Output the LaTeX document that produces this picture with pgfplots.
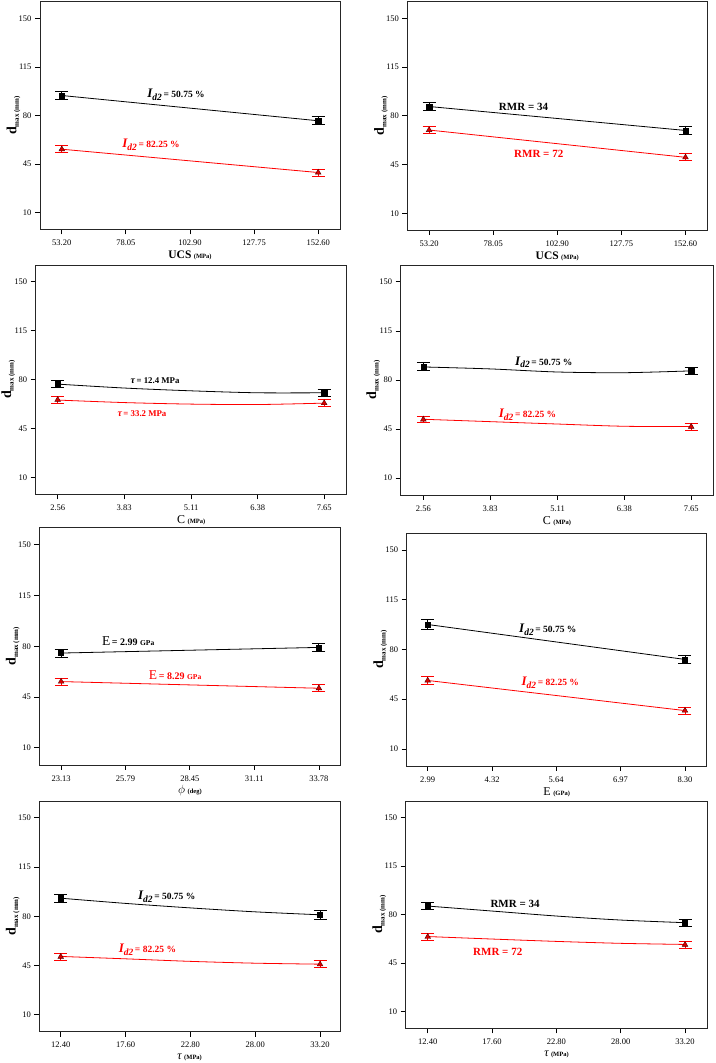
\documentclass[border=0pt]{standalone}
\usepackage{fontspec}
\setmainfont{Liberation Serif}
\usepackage{pgfplots}
\pgfplotsset{compat=1.18}
\definecolor{rd}{RGB}{255,0,0}
\newcommand{\Id}[1]{{\fontsize{13}{13}\selectfont\bfseries\itshape I\raisebox{-2.8pt}{\fontsize{9.5}{9.5}\selectfont d2}}\,{\fontsize{9.5}{10}\selectfont\bfseries = #1 \%}}
\newcommand{\dlab}{{\fontsize{14}{14}\selectfont\bfseries d}\raisebox{-2.5pt}{\fontsize{7}{7}\selectfont\bfseries max (mm)}}
\newcommand{\unitlab}[1]{{\fontsize{6.5}{7}\selectfont\bfseries (#1)}}
\pgfplotsset{
  panel/.style={scale only axis, anchor=south west, clip=false,
    ymin=-2, ymax=162, ytick={10,45,80,115,150}, yticklabels={10,45,80,115,150},
    xtick pos=bottom, ytick pos=left, tick align=outside, major tick length=5pt,
    tick style={line width=0.8pt, black},
    axis line style={line width=0.9pt, black!85},
    tick label style={font=\fontsize{8.5}{10}\selectfont},
    xticklabel style={yshift=-2pt},
    ylabel={\dlab},
    ylabel style={at={(axis description cs:-0.088,0.5)}, anchor=center},
    xlabel style={at={(axis description cs:0.5,0)}, anchor=center, yshift=-26pt},
  },
  bl/.style={black, line width=0.8pt, no marks},
  rl/.style={rd, line width=0.8pt, no marks},
  bm/.style={black, only marks, mark=square*, mark size=2.6pt,
    error bars/.cd, y dir=both, y explicit, error bar style={line width=0.9pt},
    error mark options={rotate=90, mark size=6.5pt, line width=0.9pt}},
  rm/.style={rd, only marks, mark=triangle*, mark size=3.3pt, mark options={fill=rd!85!black, draw=black!70!red},
    error bars/.cd, y dir=both, y explicit, error bar style={line width=0.9pt},
    error mark options={rotate=90, mark size=6.5pt, line width=0.9pt, draw=rd}},
}
\newcommand{\taulab}[1]{{\fontsize{10}{10}\selectfont\bfseries\itshape τ}{\fontsize{8.8}{9}\selectfont\bfseries\,= #1 MPa}}
\newcommand{\Elab}[1]{{\fontsize{13.5}{13}\selectfont E}{\fontsize{10}{10}\selectfont\bfseries\,= #1 }{\fontsize{7.5}{8}\selectfont\bfseries GPa}}
\begin{document}
\begin{tikzpicture}
\useasboundingbox (0pt,0pt) rectangle (715pt,1063pt);
% P1
\begin{axis}[panel, at={(40pt,833.7pt)}, width=300pt, height=227.6pt,
  xmin=44.75, xmax=161.05, xtick={53.2,78.05,102.9,127.75,152.6},
  xticklabels={53.20,78.05,102.90,127.75,152.60},
  xlabel={{\fontsize{11.5}{12}\selectfont\bfseries UCS} \unitlab{MPa}}]
\addplot[bl] coordinates {(53.2,94.4) (152.6,76.2)};
\addplot[rl] coordinates {(53.2,55.7) (152.6,38.9)};
\addplot[bm] coordinates {(53.2,94.4) +- (0,3) (152.6,76.2) +- (0,3)};
\addplot[rm] coordinates {(53.2,55.7) +- (0,2.5) (152.6,38.9) +- (0,2.5)};
\node[black] at (axis cs:97.5,94.7) {\Id{50.75}};
\node[rd] at (axis cs:87.8,58.6) {\Id{82.25}};
\end{axis}
% P2
\begin{axis}[panel, at={(407.3pt,833pt)}, width=300pt, height=228.3pt,
  xmin=44.75, xmax=161.05, xtick={53.2,78.05,102.9,127.75,152.6},
  xticklabels={53.20,78.05,102.90,127.75,152.60},
  xlabel={{\fontsize{11.5}{12}\selectfont\bfseries UCS} \unitlab{MPa}}]
\addplot[bl] coordinates {(53.2,86.7) (152.6,69.5)};
\addplot[rl] coordinates {(53.2,69.8) (152.6,50.2)};
\addplot[bm] coordinates {(53.2,86.7) +- (0,3) (152.6,69.5) +- (0,3)};
\addplot[rm] coordinates {(53.2,69.8) +- (0,2.7) (152.6,50.2) +- (0,2.5)};
\node[black] at (axis cs:89.8,86.4) {\fontsize{11}{12}\selectfont\bfseries RMR = 34};
\node[rd] at (axis cs:95.7,52.4) {\fontsize{11}{12}\selectfont\bfseries RMR = 72};
\end{axis}
% P3
\begin{axis}[panel, at={(35.7pt,568.7pt)}, width=311pt, height=229.3pt,
  xmin=2.14, xmax=8.08, xtick={2.56,3.83,5.11,6.38,7.65},
  xticklabels={2.56,3.83,5.11,6.38,7.65},
  xlabel={{\fontsize{12}{12}\selectfont C} \unitlab{MPa}}]
\addplot[bl, smooth] coordinates {(2.56,76.8) (3.83,74.0) (5.11,72.0) (6.38,70.6) (7.65,70.6)};
\addplot[rl, smooth] coordinates {(2.56,65.4) (3.83,63.6) (5.11,62.5) (6.38,62.2) (7.65,63.2)};
\addplot[bm] coordinates {(2.56,77.0) +- (0,2.4) (7.65,70.6) +- (0,2.4)};
\addplot[rm] coordinates {(2.56,65.6) +- (0,2.4) (7.65,63.2) +- (0,2.4)};
\node[black] at (axis cs:4.42,79.4) {\taulab{12.4}};
\node[rd] at (axis cs:4.17,55.6) {\taulab{33.2}};
\end{axis}
% P4
\begin{axis}[panel, at={(400.7pt,568pt)}, width=312.6pt, height=230pt,
  xmin=2.13, xmax=8.07, xtick={2.56,3.83,5.11,6.38,7.65},
  xticklabels={2.56,3.83,5.11,6.38,7.65},
  xlabel={{\fontsize{12}{12}\selectfont C} \unitlab{MPa}}]
\addplot[bl, smooth] coordinates {(2.56,89.3) (3.83,87.9) (5.11,85.7) (6.38,85.2) (7.65,86.5)};
\addplot[rl, smooth] coordinates {(2.56,52.0) (3.83,50.3) (5.11,48.6) (6.38,47.0) (7.65,46.8)};
\addplot[bm] coordinates {(2.56,89.5) +- (0,2.8) (7.65,86.4) +- (0,2.8)};
\addplot[rm] coordinates {(2.56,51.9) +- (0,2.4) (7.65,46.7) +- (0,2.4)};
\node[black] at (axis cs:4.85,92.6) {\Id{50.75}};
\node[rd] at (axis cs:4.54,55.2) {\Id{82.25}};
\end{axis}
% P5
\begin{axis}[panel, at={(39.3pt,298pt)}, width=301.4pt, height=237.5pt,
  xmin=22.23, xmax=34.68, xtick={23.13,25.79,28.45,31.11,33.78},
  xticklabels={23.13,25.79,28.45,31.11,33.78},
  xlabel={{\fontsize{12}{12}\selectfont$\phi$} \unitlab{deg}}]
\addplot[bl] coordinates {(23.13,75.3) (33.78,79.2)};
\addplot[rl] coordinates {(23.13,55.6) (33.78,51.0)};
\addplot[bm] coordinates {(23.13,75.3) +- (0,2.7) (33.78,79.2) +- (0,2.7)};
\addplot[rm] coordinates {(23.13,55.6) +- (0,2.5) (33.78,51.0) +- (0,2.5)};
\node[black] at (axis cs:25.9,83.5) {\Elab{2.99}};
\node[rd] at (axis cs:27.84,59.9) {\Elab{8.29}};
\end{axis}
% P6
\begin{axis}[panel, at={(406.7pt,297pt)}, width=300pt, height=233pt,
  xmin=2.557, xmax=8.748, xtick={2.99,4.32,5.64,6.97,8.30},
  xticklabels={2.99,4.32,5.64,6.97,8.30},
  xlabel={{\fontsize{12}{12}\selectfont E} \unitlab{GPa}}]
\addplot[bl] coordinates {(2.99,97.6) (8.30,73.0)};
\addplot[rl] coordinates {(2.99,58.2) (8.30,37.0)};
\addplot[bm] coordinates {(2.99,97.6) +- (0,3.2) (8.30,73.0) +- (0,3.0)};
\addplot[rm] coordinates {(2.99,58.2) +- (0,2.6) (8.30,37.0) +- (0,2.5)};
\node[black] at (axis cs:5.47,94.1) {\Id{50.75}};
\node[rd] at (axis cs:5.52,56.5) {\Id{82.25}};
\end{axis}
% P7
\begin{axis}[panel, at={(39.3pt,31.3pt)}, width=300.7pt, height=230.7pt,
  xmin=10.68, xmax=34.8, xtick={12.4,17.6,22.8,28.0,33.2},
  xticklabels={12.40,17.60,22.80,28.00,33.20},
  xlabel={{\fontsize{12}{12}\selectfont\itshape τ} \unitlab{MPa}}]
\addplot[bl, smooth] coordinates {(12.4,92.9) (17.6,89.2) (22.8,86.0) (28.0,83.2) (33.2,81.1)};
\addplot[rl, smooth] coordinates {(12.4,51.5) (17.6,49.8) (22.8,48.0) (28.0,46.7) (33.2,46.0)};
\addplot[bm] coordinates {(12.4,92.9) +- (0,3) (33.2,81.1) +- (0,3)};
\addplot[rm] coordinates {(12.4,51.3) +- (0,2.5) (33.2,45.9) +- (0,2.5)};
\node[black] at (axis cs:20.9,94.1) {\Id{50.75}};
\node[rd] at (axis cs:19.35,56.3) {\Id{82.25}};
\end{axis}
% P8
\begin{axis}[panel, at={(405.7pt,34.7pt)}, width=301.6pt, height=227.3pt,
  xmin=10.62, xmax=35.0, xtick={12.4,17.6,22.8,28.0,33.2},
  xticklabels={12.40,17.60,22.80,28.00,33.20},
  xlabel={{\fontsize{12}{12}\selectfont\itshape τ} \unitlab{MPa}}]
\addplot[bl, smooth] coordinates {(12.4,86.2) (17.6,82.6) (22.8,79.0) (28.0,76.1) (33.2,74.2)};
\addplot[rl, smooth] coordinates {(12.4,64.2) (17.6,62.4) (22.8,60.7) (28.0,59.3) (33.2,58.5)};
\addplot[bm] coordinates {(12.4,86.2) +- (0,2.8) (33.2,74.0) +- (0,2.8)};
\addplot[rm] coordinates {(12.4,64.0) +- (0,2.7) (33.2,58.3) +- (0,2.5)};
\node[black] at (axis cs:19.46,87.9) {\fontsize{11}{12}\selectfont\bfseries RMR = 34};
\node[rd] at (axis cs:18.06,52.9) {\fontsize{11}{12}\selectfont\bfseries RMR = 72};
\end{axis}
\end{tikzpicture}
\end{document}
